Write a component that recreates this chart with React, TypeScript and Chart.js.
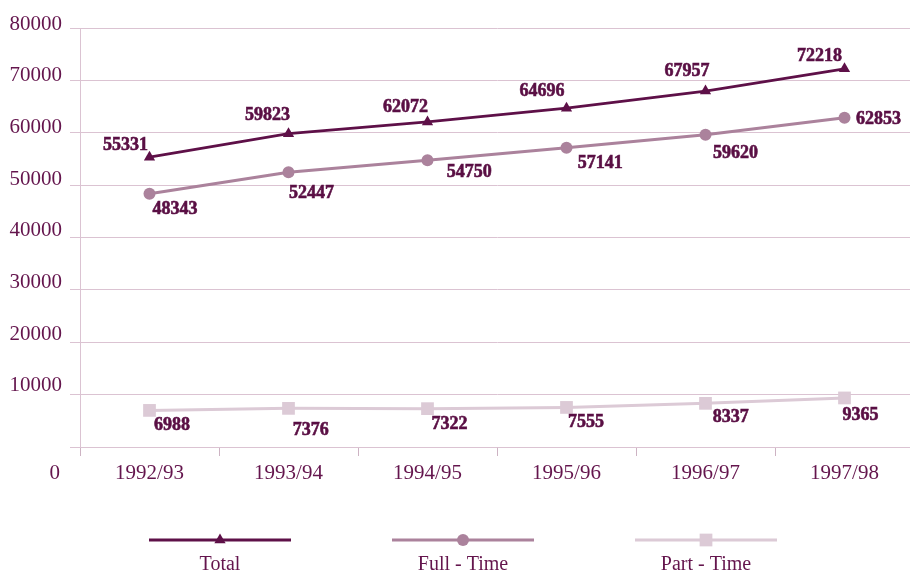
import React, { useEffect, useRef } from "react";
import { Chart, registerables } from "chart.js";

Chart.register(...registerables);

const categories = ["1992/93", "1993/94", "1994/95", "1995/96", "1996/97", "1997/98"];
const totalValues = [55331, 59823, 62072, 64696, 67957, 72218];
const fullTimeValues = [48343, 52447, 54750, 57141, 59620, 62853];
const partTimeValues = [6988, 7376, 7322, 7555, 8337, 9365];
const seriesNames = ["Total", "Full - Time", "Part - Time"];
const yTickValues = [0, 10000, 20000, 30000, 40000, 50000, 60000, 70000, 80000];

const TOTAL_COLOR = "#5e1048";
const FULL_COLOR = "#ab829c";
const PART_COLOR = "#dccad6";
const GRID_COLOR = "#dbc3d2";
const TICK_MARK_COLOR = "#cdb3c3";
const TEXT_COLOR = "#64154d";
const LABEL_COLOR = "#5a0f44";

// label centre offsets from each point (pixels)
const labelOffsets: [number, number][][] = [
  [[-24, -11.5], [-21, -18], [-22, -14.7], [-24.6, -16.7], [-18.4, -19.7], [-24.9, -12.3]],
  [[25.5, 16], [23, 20.7], [41.7, 12.5], [33.8, 16], [30, 18.7], [34, 2]],
  [[22.4, 15.4], [22.3, 21.5], [22.1, 15.2], [19.5, 14.7], [25.3, 14.2], [16, 17.2]],
];
const legendCenters = [220, 463, 706];

function drawMarker(ctx: CanvasRenderingContext2D, style: string, x: number, y: number, r: number, color: string) {
  ctx.save();
  ctx.fillStyle = color;
  ctx.beginPath();
  if (style === "triangle") {
    ctx.moveTo(x, y - r);
    ctx.lineTo(x + r * 0.866, y + r * 0.5);
    ctx.lineTo(x - r * 0.866, y + r * 0.5);
    ctx.closePath();
  } else if (style === "circle") {
    ctx.arc(x, y, r, 0, Math.PI * 2);
  } else {
    const s = r * Math.SQRT1_2;
    ctx.rect(x - s, y - s, 2 * s, 2 * s);
  }
  ctx.fill();
  ctx.restore();
}

const textPlugin = {
  id: "customText",
  afterDatasetsDraw(chart: any) {
    const ctx: CanvasRenderingContext2D = chart.ctx;
    const xScale = chart.scales.x;
    const yScale = chart.scales.y;
    ctx.save();
    // data labels
    ctx.font = "bold 18px 'Liberation Serif', serif";
    ctx.fillStyle = LABEL_COLOR;
    ctx.strokeStyle = LABEL_COLOR;
    ctx.lineWidth = 0.6;
    ctx.textAlign = "center";
    ctx.textBaseline = "middle";
    chart.data.datasets.forEach((ds: any, di: number) => {
      const meta = chart.getDatasetMeta(di);
      meta.data.forEach((pt: any, i: number) => {
        const [dx, dy] = labelOffsets[di][i];
        ctx.fillText(String(ds.data[i]), pt.x + dx, pt.y + dy);
        ctx.strokeText(String(ds.data[i]), pt.x + dx, pt.y + dy);
      });
    });
    // x labels
    ctx.font = "21px 'Liberation Serif', serif";
    ctx.fillStyle = TEXT_COLOR;
    categories.forEach((c, i) => {
      ctx.fillText(c, xScale.getPixelForValue(i), 473);
    });
    // y labels
    ctx.textAlign = "right";
    yTickValues.forEach((v) => {
      if (v === 0) {
        ctx.fillText(String(v), 60, 473);
      } else {
        const y = yScale.getPixelForValue(v) - 4 - (8 - v / 10000) * 0.7;
        ctx.fillText(String(v), 62, y);
      }
    });
    // legend
    ctx.textAlign = "center";
    ctx.font = "20px 'Liberation Serif', serif";
    chart.data.datasets.forEach((ds: any, di: number) => {
      const cx = legendCenters[di];
      ctx.strokeStyle = ds.borderColor;
      ctx.lineWidth = 3;
      ctx.beginPath();
      ctx.moveTo(cx - 71, 540);
      ctx.lineTo(cx + 71, 540);
      ctx.stroke();
      drawMarker(ctx, ds.pointStyle, cx, 540, ds.pointRadius, ds.borderColor);
      ctx.fillStyle = TEXT_COLOR;
      ctx.fillText(seriesNames[di], cx, 565);
    });
    ctx.restore();
  },
};

export default function App() {
  const ref = useRef<HTMLCanvasElement>(null);
  useEffect(() => {
    document.body.style.margin = "0";
    const canvas = ref.current!;
    const mk = (label: string, data: number[], color: string, style: string, r: number, w: number) => ({
      label,
      data,
      borderColor: color,
      backgroundColor: color,
      pointBackgroundColor: color,
      pointBorderColor: color,
      pointBorderWidth: 0,
      pointStyle: style,
      pointRadius: r,
      borderWidth: w,
      tension: 0,
      fill: false,
    });
    const chart = new Chart(canvas, {
      type: "line",
      data: {
        labels: categories,
        datasets: [
          mk(seriesNames[0], totalValues, TOTAL_COLOR, "triangle", 6.5, 2.8),
          mk(seriesNames[1], fullTimeValues, FULL_COLOR, "circle", 6, 3),
          mk(seriesNames[2], partTimeValues, PART_COLOR, "rect", 9, 3),
        ] as any,
      },
      options: {
        responsive: false,
        animation: false,
        devicePixelRatio: 1,
        layout: { padding: { left: 70, top: 28, right: 0, bottom: 120 } },
        plugins: { legend: { display: false }, tooltip: { enabled: false } },
        scales: {
          x: {
            type: "category",
            offset: true,
            grid: { offset: true, drawOnChartArea: false, drawTicks: true, tickLength: 9, color: TICK_MARK_COLOR, lineWidth: 1 },
            border: { display: false },
            ticks: { display: false },
          },
          y: {
            min: 0,
            max: 80000,
            ticks: { display: false, stepSize: 10000 },
            grid: { color: GRID_COLOR, tickLength: 10, drawTicks: true, lineWidth: 1 },
            border: { display: true, color: GRID_COLOR, width: 1 },
          },
        },
      } as any,
      plugins: [textPlugin],
    });
    return () => chart.destroy();
  }, []);
  return (
    <div style={{ width: 910, height: 576, overflow: "hidden", background: "#fff" }}>
      <canvas ref={ref} width={923} height={576} style={{ display: "block" }} />
    </div>
  );
}
